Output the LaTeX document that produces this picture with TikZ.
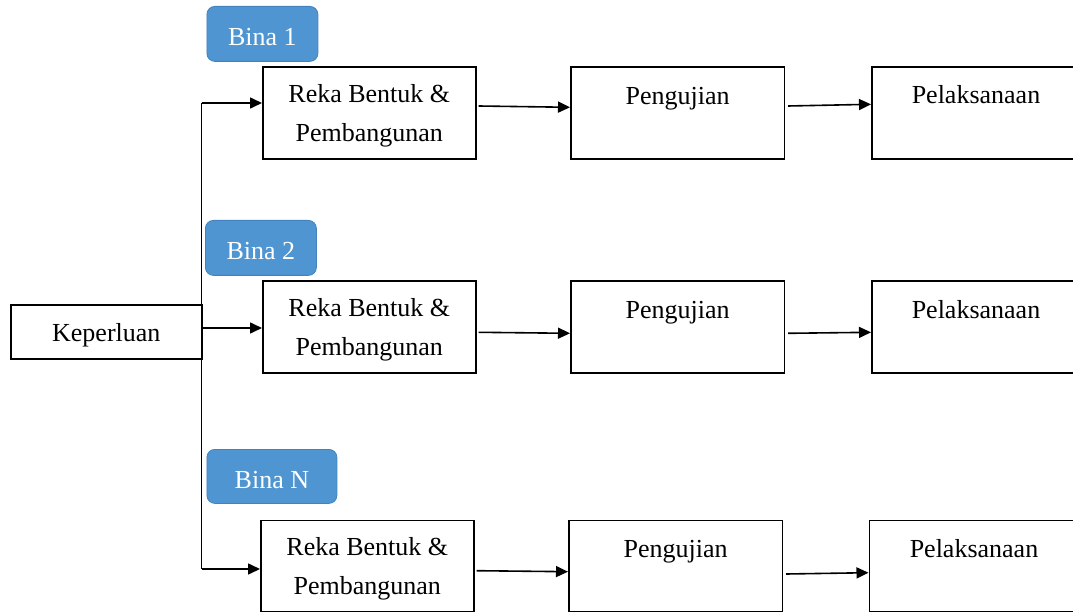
\documentclass[tikz,border=0pt]{standalone}
\usepackage{fontspec}
\setmainfont{Liberation Serif}
\usetikzlibrary{arrows.meta}
\definecolor{binablue}{HTML}{4F95D1}
\definecolor{binaedge}{HTML}{4282BE}
\tikzset{
  box/.style={draw=black, line width=1.6pt, fill=white, inner sep=0pt, anchor=north west},
  txt/.style={font=\fontsize{26}{39}\selectfont, inner sep=0pt},
  rekabox/.style={box, txt, align=center, minimum width=213pt},
  ujibox/.style={box, txt, minimum width=213.5pt, text height=18pt, text depth=35pt},
  pelbox/.style={box, minimum width=240pt},
  badge/.style={draw=binaedge, line width=0.8pt, fill=binablue, rounded corners=8pt,
    text=white, font=\fontsize{26}{30}\selectfont, inner sep=0pt, anchor=north west,
    minimum height=55pt, text height=24pt, text depth=0pt},
  arr/.style={line width=1.6pt, -{Triangle[length=12pt,width=11pt]}},
  trunkline/.style={line width=1.6pt}
}
\newcommand{\firstline}{\rule{0pt}{24pt}}
\begin{document}
\begin{tikzpicture}[x=1pt,y=-1pt]
\useasboundingbox (0,0) rectangle (1073,612);

% Keperluan
\node[box, txt, minimum width=191pt, minimum height=54pt, text height=20pt, text depth=0pt] (kep) at (10,304) {Keperluan};

% Badges
\node[badge, minimum width=111pt] (b1) at (206.5,6) {Bina 1};
\node[badge, minimum width=111pt] (b2) at (205,220) {Bina 2};
\node[badge, minimum width=130pt, minimum height=54pt] (b3) at (206.5,449) {Bina N};

% Row 1
\node[rekabox, minimum height=92pt] (r1) at (262,66) {\firstline Reka Bentuk \&\\Pembangunan};
\node[ujibox, minimum height=92pt] (p1) at (570,66) {Pengujian};
\node[pelbox, minimum height=92pt] (l1) at (871,66) {};
\node[txt, anchor=base] (l1t) at (976,104) {Pelaksanaan};

% Row 2
\node[rekabox, minimum height=92pt] (r2) at (262,280) {\firstline Reka Bentuk \&\\Pembangunan};
\node[ujibox, minimum height=92pt] (p2) at (570,280) {Pengujian};
\node[pelbox, minimum height=92pt] (l2) at (871,280) {};
\node[txt, anchor=base] (l2t) at (976,318) {Pelaksanaan};

% Row 3
\node[rekabox, minimum height=91.5pt] (r3) at (260,519.5) {\firstline Reka Bentuk \&\\Pembangunan};
\node[ujibox, minimum height=91.5pt] (p3) at (568,519.5) {Pengujian};
\node[pelbox, minimum height=91.5pt] (l3) at (868.5,519.5) {};
\node[txt, anchor=base] (l3t) at (974,557.5) {Pelaksanaan};

% Trunk
\coordinate (t1) at (201.5,103);
\coordinate (t2) at (201.5,328);
\coordinate (t3) at (201.5,569);
\draw[trunkline] (t1) -- (t3);
\draw[arr] (t1) -- (r1.west |- t1);
\draw[arr] (t2) -- (r2.west |- t2);
\draw[arr] (t3) -- (r3.west |- t3);

% Row arrows (slightly sloped, as in the reference)
\coordinate (a1s) at (0,106);   \coordinate (a1e) at (0,107.3);
\coordinate (a2s) at (0,332.3); \coordinate (a2e) at (0,333.3);
\coordinate (a3s) at (0,570.7); \coordinate (a3e) at (0,571.7);
\coordinate (c1s) at (0,106);   \coordinate (c1e) at (0,104.3);
\coordinate (c2s) at (0,333.3); \coordinate (c2e) at (0,332.3);
\coordinate (c3s) at (0,574);   \coordinate (c3e) at (0,572.7);
\draw[arr] ([xshift=2pt]r1.east |- a1s) -- (p1.west |- a1e);
\draw[arr] ([xshift=2pt]r2.east |- a2s) -- (p2.west |- a2e);
\draw[arr] ([xshift=2pt]r3.east |- a3s) -- (p3.west |- a3e);
\draw[arr] ([xshift=3pt]p1.east |- c1s) -- (l1.west |- c1e);
\draw[arr] ([xshift=3pt]p2.east |- c2s) -- (l2.west |- c2e);
\draw[arr] ([xshift=3pt]p3.east |- c3s) -- (l3.west |- c3e);
\end{tikzpicture}
\end{document}
